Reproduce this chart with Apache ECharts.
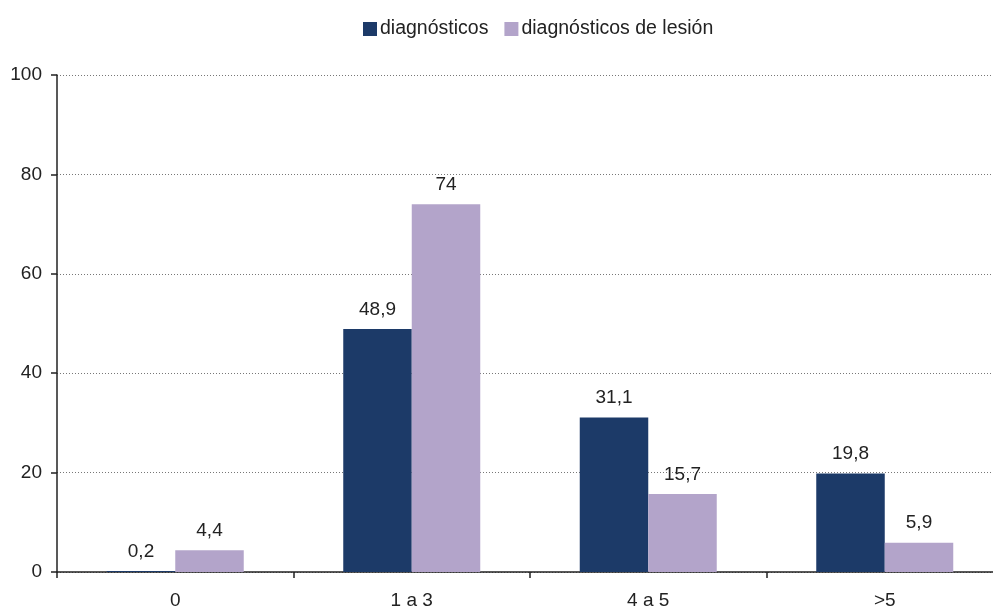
<!DOCTYPE html>
<html><head><meta charset="utf-8">
<script src="https://cdn.jsdelivr.net/npm/echarts@6/dist/echarts.min.js"></script>
<style>html,body{margin:0;padding:0;background:#fff;overflow:hidden;width:993px;height:610px}#c{width:1003px;height:610px}</style>
</head><body><div id="c"></div>
<script>
const categories = ['0', '1 a 3', '4 a 5', '>5'];
const seriesNames = ['diagnósticos', 'diagnósticos de lesión'];
const diagnosticos = [0.2, 48.9, 31.1, 19.8];
const diagnosticosLesion = [4.4, 74, 15.7, 5.9];
const yTicks = [0, 20, 40, 60, 80, 100];

const font = 'Liberation Sans, Arial, sans-serif';
const fmt = p => String(p.value).replace('.', ',');
const chart = echarts.init(document.getElementById('c'), null, {renderer: 'canvas'});
chart.setOption({
  animation: false,
  legend: {
    top: 14, left: 358, itemWidth: 14, itemHeight: 14, itemGap: 16,
    icon: 'rect',
    textStyle: {fontFamily: font, fontSize: 19.5, color: '#222', padding: [0, 0, 0, -2]},
    data: seriesNames
  },
  grid: {left: 57, right: 0, top: 75, bottom: 38, containLabel: false},
  xAxis: {
    type: 'category', data: categories,
    axisLine: {lineStyle: {color: '#222', width: 1.5}},
    axisTick: {show: true, length: 6, alignWithLabel: false, lineStyle: {color: '#222', width: 1.5}},
    axisLabel: {margin: 19, fontFamily: font, fontSize: 19, color: '#222'}
  },
  yAxis: {
    type: 'value', min: yTicks[0], max: yTicks[yTicks.length - 1], interval: 20,
    axisLine: {show: true, lineStyle: {color: '#222', width: 1.5}},
    axisTick: {show: true, length: 6, lineStyle: {color: '#222', width: 1.5}},
    axisLabel: {margin: 15, fontFamily: font, fontSize: 19, color: '#222'},
    splitLine: {show: true, lineStyle: {color: '#777', type: [1, 2], width: 1}}
  },
  series: [
    {
      name: seriesNames[0], type: 'bar', data: diagnosticos, barWidth: 68.5, barGap: '0%',
      itemStyle: {color: '#1C3A68'},
      label: {show: true, position: 'top', distance: 10, formatter: fmt, fontFamily: font, fontSize: 19, color: '#222'}
    },
    {
      name: seriesNames[1], type: 'bar', data: diagnosticosLesion, barWidth: 68.5, barGap: '0%',
      itemStyle: {color: '#B3A4CA'},
      label: {show: true, position: 'top', distance: 10, formatter: fmt, fontFamily: font, fontSize: 19, color: '#222'}
    }
  ]
});
</script></body></html>
